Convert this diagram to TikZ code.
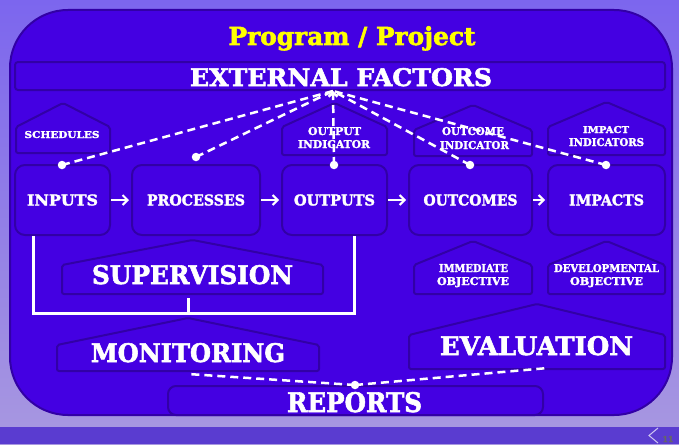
\documentclass[tikz,border=0pt]{standalone}
\usepackage{fontspec}
\setmainfont{DejaVu Serif}[BoldFeatures={FakeBold=2.2}]
\usepackage{graphicx}
\usetikzlibrary{arrows.meta}
\definecolor{mainfill}{HTML}{4400E2}
\definecolor{edgec}{HTML}{3200A6}
\definecolor{bgA}{HTML}{A898E0}
\definecolor{bgB}{HTML}{7C66EE}
\definecolor{bandc}{HTML}{5A3CD0}
\definecolor{titleyellow}{HTML}{FFFF00}
\newcommand\fit[3]{\resizebox{#1pt}{#2pt}{\bfseries #3}}
\newcommand\drawhouse[5]{\draw[houseshape] (#1,#5) -- (#1,#4) -- ({(#1+#2)/2},#3) -- (#2,#4) -- (#2,#5) -- cycle;}
\begin{document}
\begin{tikzpicture}[x=1pt,y=-1pt,
  houseshape/.style={draw=edgec, line width=2pt, fill=mainfill, rounded corners=2pt},
  box/.style={draw=edgec, line width=2pt, fill=mainfill, rounded corners=10pt, inner sep=0, text=white},
  lbl/.style={text=white, inner sep=0, anchor=base},
  dashline/.style={white, line width=2.5pt, dash pattern=on 8pt off 5pt},
  dot/.style={circle, fill=white, inner sep=0, minimum size=8.5pt},
  flow/.style={white, line width=2pt, shorten >=2pt, -{Straight Barb[length=5pt,width=10pt]}},
  brk/.style={white, line width=3pt}]
% background
\path[use as bounding box, top color=bgB, bottom color=bgA] (0,0) rectangle (679,444);
\fill[bandc] (0,427) rectangle (679,444);
\draw[white!70!bandc, line width=1pt] (658,428) -- (649,435.5) -- (658,443);
\node[text=black!60, inner sep=0, anchor=base, font=\bfseries\fontsize{8}{8}\selectfont] (pgno) at (668,442) {11};
% main panel
\draw[draw=edgec, line width=2pt, fill=mainfill, rounded corners=58pt] (10,10) rectangle (672,415);
% title
\node[lbl, text=titleyellow] (title) at (352,45) {\resizebox{247pt}{!}{\bfseries Program / Project}};
% external factors band
\draw[draw=edgec, line width=2pt, fill=mainfill, rounded corners=3pt] (15,62) rectangle (665,90);
\node[lbl] (ext) at (341,86) {\fit{302}{18}{EXTERNAL FACTORS}};
% indicator houses
\drawhouse{16}{110}{103}{127}{153}
\drawhouse{282}{387}{103}{127}{155}
\drawhouse{414}{532}{105}{130}{156}
\drawhouse{548}{665}{102}{127}{155}
\node[lbl] (sched) at (62,138) {\fit{75}{7}{SCHEDULES}};
\node[lbl] (oi1) at (334.5,135) {\fit{53}{8}{OUTPUT}};
\node[lbl] (oi2) at (334,148) {\fit{72}{8}{INDICATOR}};
\node[lbl] (ci1) at (473,135) {\fit{62}{8}{OUTCOME}};
\node[lbl] (ci2) at (474.5,149) {\fit{69}{8}{INDICATOR}};
\node[lbl] (ii1) at (606,133) {\fit{46}{7}{IMPACT}};
\node[lbl] (ii2) at (606.5,146) {\fit{75}{8}{INDICATORS}};
% main boxes
\node[box, minimum width=95pt, minimum height=70pt] (inputs) at (62.5,200) {\fit{71}{11}{INPUTS}};
\node[box, minimum width=128pt, minimum height=70pt] (processes) at (196,200) {\fit{98}{11}{PROCESSES}};
\node[box, minimum width=105pt, minimum height=70pt] (outputs) at (334.5,200) {\fit{81}{11}{OUTPUTS}};
\node[box, minimum width=123pt, minimum height=70pt] (outcomes) at (470.5,200) {\fit{94}{11}{OUTCOMES}};
\node[box, minimum width=117pt, minimum height=70pt] (impacts) at (606.5,200) {\fit{75}{11}{IMPACTS}};
\draw[flow] (inputs) -- (processes);
\draw[flow] (processes) -- (outputs);
\draw[flow] (outputs) -- (outcomes);
\draw[flow] (outcomes) -- (impacts);
% dashed links to external factors
\coordinate (hub) at (333,91);
\node[dot] (d1) at (62,165) {};
\node[dot] (d2) at (196,157) {};
\node[dot] (d3) at (334,165) {};
\node[dot] (d4) at (470,165) {};
\node[dot] (d5) at (606,165) {};
\draw[dashline] (d1.center) -- (hub);
\draw[dashline] (d2.center) -- (hub);
\draw[dashline] (d4.center) -- (hub);
\draw[dashline] (d5.center) -- (hub);
\draw[dashline, -{Straight Barb[length=4pt,width=9pt]}] (d3.center) -- (hub);
% objective houses
\drawhouse{414}{532}{241}{265}{294}
\drawhouse{548}{665}{241}{265}{294}
\node[lbl] (io1) at (473.5,272) {\fit{69}{8}{IMMEDIATE}};
\node[lbl] (io2) at (473,285) {\fit{72}{8}{OBJECTIVE}};
\node[lbl] (do1) at (606.5,272) {\fit{105}{8}{DEVELOPMENTAL}};
\node[lbl] (do2) at (606.5,285) {\fit{73}{8}{OBJECTIVE}};
% supervision
\drawhouse{62}{323}{240}{265}{294}
\node[lbl] (sup) at (192.5,284) {\fit{201}{19}{SUPERVISION}};
\coordinate (bL) at (33,236);
\coordinate (bLL) at (33,313);
\coordinate (bRR) at (354,313);
\coordinate (bR) at (354,236);
\coordinate (supbot) at (188,298);
\coordinate (supjoin) at (188,313);
\draw[brk] (bL) -- (bLL) -- (bRR) -- (bR);
\draw[brk] (supbot) -- (supjoin);
% monitoring and evaluation
\drawhouse{57}{319}{318}{345}{371}
\node[lbl] (mon) at (188,362) {\fit{194}{19}{MONITORING}};
\drawhouse{409}{665}{304}{335}{369}
\node[lbl] (eval) at (536.5,355) {\fit{193}{19}{EVALUATION}};
% reports
\draw[draw=edgec, line width=2pt, fill=mainfill, rounded corners=8pt] (168,386) rectangle (543,415);
\node[lbl] (rep) at (354.5,412) {\fit{135}{20}{REPORTS}};
\node[dot] (rdot) at (355,385) {};
\coordinate (monbot) at (188,374);
\coordinate (evbot) at (548,368);
\draw[dashline] (rdot.center) -- (monbot);
\draw[dashline] (rdot.center) -- (evbot);
\end{tikzpicture}
\end{document}
